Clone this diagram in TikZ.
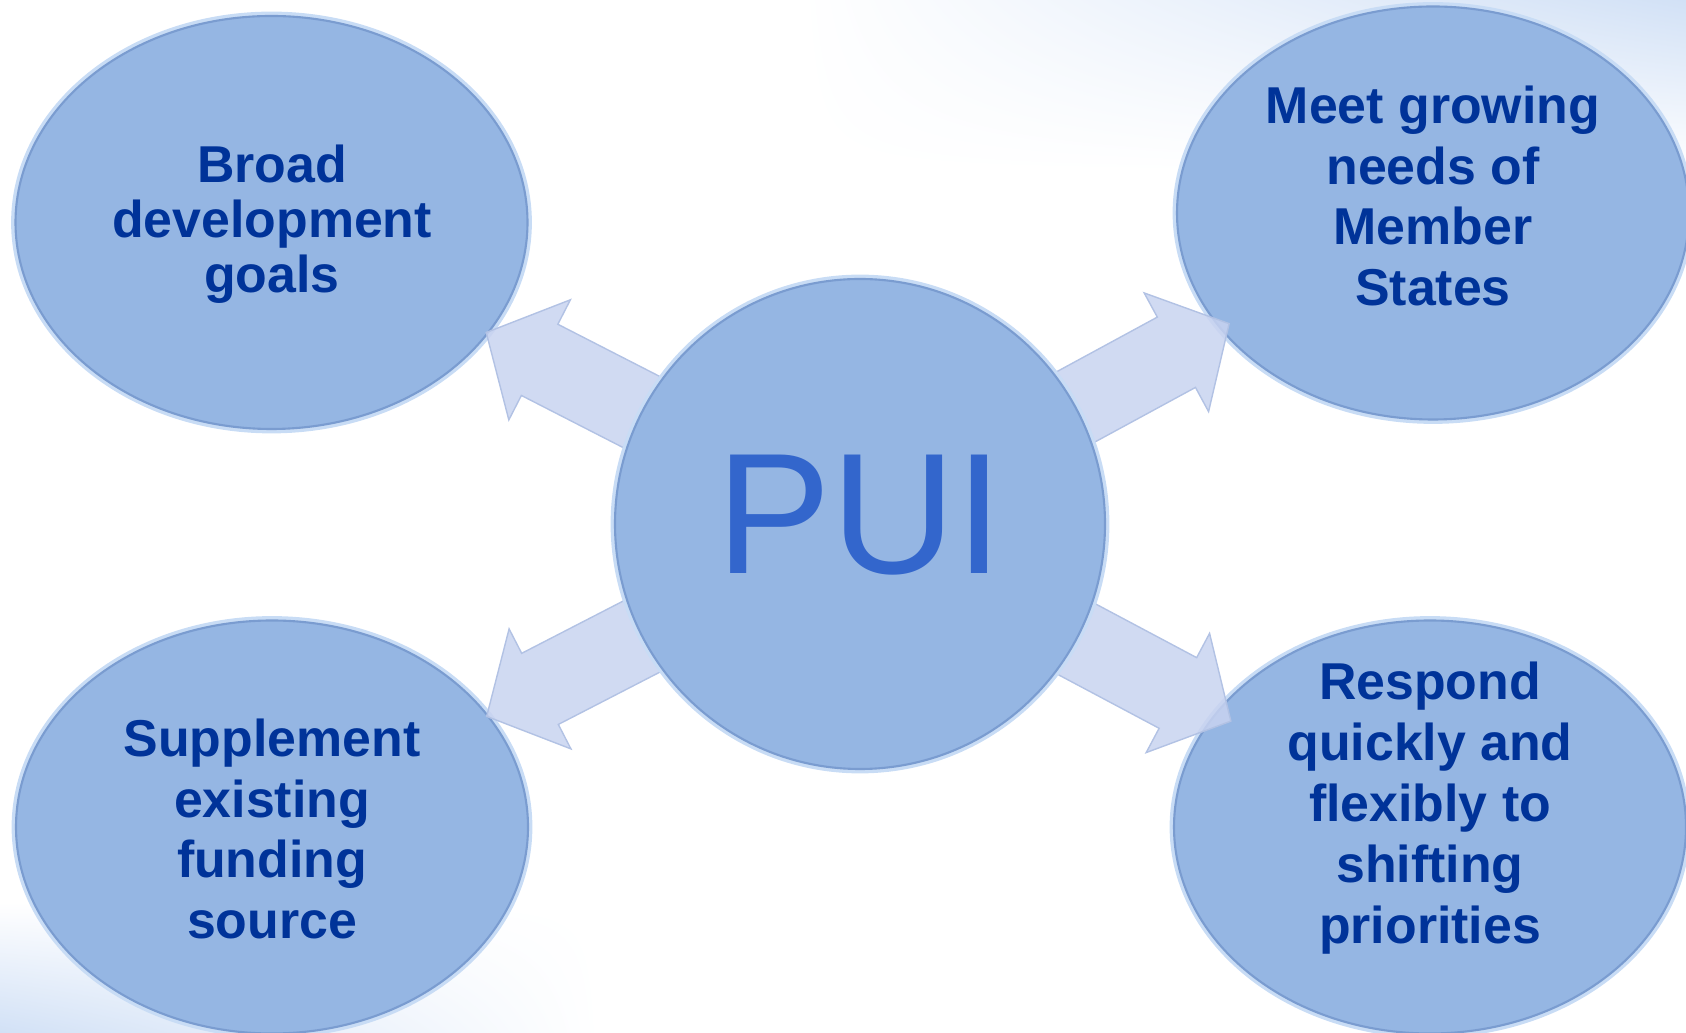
\documentclass[tikz,border=0pt]{standalone}
\usepackage{fontspec}
\setmainfont{Liberation Sans}
\usetikzlibrary{calc,shapes.geometric,shadings}

\definecolor{bubblefill}{RGB}{149,182,227}
\definecolor{bubbleedge}{RGB}{122,156,208}
\definecolor{bubbleglow}{RGB}{200,220,245}
\definecolor{textblue}{RGB}{0,51,153}
\definecolor{puiblue}{RGB}{51,102,204}
\definecolor{arrowfill}{RGB}{200,211,240}
\definecolor{arrowedge}{RGB}{178,194,228}
\definecolor{bgblue}{RGB}{210,225,246}

\begin{document}
\begin{tikzpicture}[
  bubble/.style={ellipse, draw=bubbleedge, line width=1.2pt, fill=bubblefill,
    preaction={draw=bubbleglow, line width=5pt},
    inner sep=0pt, minimum width=10.24cm, minimum height=8.26cm},
  goal/.style={align=center, text=textblue,
    font=\bfseries\fontsize{29.5}{34.6}\selectfont},
  flow/.style={draw=arrowedge, line width=0.8pt, fill=arrowfill, fill opacity=0.85}]

\clip (0,0) rectangle (33.72,20.64);

% background tint
\shade[upper right=bgblue, upper left=white, lower left=white, lower right=white]
  (16,17.2) rectangle (33.72,20.64);
\shade[lower left=bgblue, upper left=white, upper right=white, lower right=white]
  (0,0) rectangle (12,2.6);

\node[bubble] (goals) at (5.43,16.19) {};
\node[bubble] (meet) at (28.66,16.38) {};
\node[bubble] (supplement) at (5.44,4.10) {};
\node[bubble] (respond) at (28.60,4.10) {};

\node[goal, font=\bfseries\fontsize{29.5}{31.2}\selectfont] (goalstext) at (5.44,16.16)
  {Broad\\development\\goals};
\node[goal] (meettext) at (28.66,16.72) {Meet growing\\needs of\\Member\\States};
\node[goal] (supplementtext) at (5.44,4.06) {Supplement\\existing\\funding\\source};
\node[goal] (respondtext) at (28.60,4.48)
  {Respond\\quickly and\\flexibly to\\shifting\\priorities};

\coordinate (pui) at (17.2,10.16);

\foreach \t in {goals,meet,supplement,respond} {
  \coordinate (tail) at ($(pui)!4.9cm!(\t)$);
  \coordinate (neck) at ($(pui)!7.2cm!(\t)$);
  \coordinate (tip) at ($(pui)!8.4cm!(\t)$);
  \filldraw[flow] ($(tail)!0.8cm!90:(\t)$) -- ($(neck)!0.8cm!90:(\t)$)
    -- ($(neck)!1.35cm!90:(\t)$) -- (tip) -- ($(neck)!1.35cm!-90:(\t)$)
    -- ($(neck)!0.8cm!-90:(\t)$) -- ($(tail)!0.8cm!-90:(\t)$) -- cycle;
}

\node[circle, draw=bubbleedge, line width=1.2pt, fill=bubblefill,
  preaction={draw=bubbleglow, line width=5pt}, inner sep=0pt,
  minimum size=9.8cm] (center) at (pui) {};
\node[text=puiblue, font=\fontsize{98}{98}\selectfont] (puitext) at (17.2,10.34) {PUI};
\end{tikzpicture}
\end{document}
